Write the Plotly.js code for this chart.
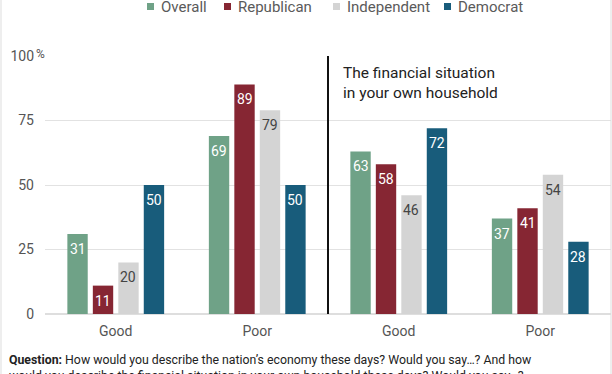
<!DOCTYPE html>
<html>
<head>
<meta charset="utf-8">
<script src="https://cdn.plot.ly/plotly-3.0.1.min.js"></script>
<style>html,body{margin:0;padding:0;background:#fff;}#chart{width:612px;height:374px;}</style>
</head>
<body>
<div id="chart"></div>
<script>
// ---- data ----
const categories = ['Good', 'Poor', 'Good', 'Poor'];
const seriesNames = ['Overall', 'Republican', 'Independent', 'Democrat'];
const overall = [31, 69, 63, 37];
const republican = [11, 89, 58, 41];
const independent = [20, 79, 46, 54];
const democrat = [50, 50, 72, 28];
const yTickValues = [0, 25, 50, 75, 100];
const yTickLabels = ['0', '25', '50', '75', '100'];
const noteText = 'The financial situation<br>in your own household';
const captionText = '<b>Question:</b> How would you describe the nation\u2019s economy these days? Would you say\u2026? And how<br>would you describe the financial situation in your own household these days? Would you say\u2026?';

// ---- styles ----
const colors = ['#6fa287', '#862633', '#d4d4d4', '#185c7b'];
const labelColors = ['#ffffff', '#ffffff', '#444444', '#ffffff'];
const FONT = 'Roboto, "Open Sans", sans-serif';
const W = 612, H = 374;
const M = {l: 45, r: 1, t: 56, b: 60};
const plotW = W - M.l - M.r, plotH = H - M.t - M.b;
const xp = px => (px - M.l) / plotW;
const yp = py => (H - M.b - py) / plotH;
const BARGAP = 0.28, GROUPGAP = 0.2;

const allSeries = [overall, republican, independent, democrat];
const xIdx = categories.map((_, i) => i);

const traces = allSeries.map((vals, i) => ({
  type: 'bar',
  name: seriesNames[i],
  x: xIdx,
  y: vals,
  marker: {color: colors[i]},
  hoverinfo: 'name+y',
  showlegend: false
}));

// value labels placed through the axes
const catW = plotW / categories.length;
const slot = catW * (1 - BARGAP) / allSeries.length;
const annotations = [];
allSeries.forEach((vals, i) => {
  vals.forEach((v, j) => {
    annotations.push({
      x: xIdx[j], y: v, xref: 'x', yref: 'y',
      text: String(v), showarrow: false,
      xanchor: 'center', yanchor: 'middle',
      xshift: (i - (allSeries.length - 1) / 2) * slot,
      yshift: -15,
      font: {family: FONT, size: 14, color: labelColors[i]}
    });
  });
});

// legend (manual)
const legendSquareX = [147, 224, 333, 444];
const shapes = [];
seriesNames.forEach((n, i) => {
  shapes.push({type: 'rect', xref: 'paper', yref: 'paper',
    x0: xp(legendSquareX[i]), x1: xp(legendSquareX[i] + 7),
    y0: yp(10), y1: yp(3), fillcolor: colors[i], line: {width: 0}});
  annotations.push({xref: 'paper', yref: 'paper', x: xp(legendSquareX[i] + 12), y: yp(7),
    xanchor: 'left', yanchor: 'middle', showarrow: false, text: n,
    font: {family: FONT, size: 15, color: '#5a5a5a'}});
});

// percent sign on top tick
annotations.push({xref: 'paper', yref: 'y', x: xp(34), y: yTickValues[yTickValues.length - 1],
  xanchor: 'left', yanchor: 'middle', yshift: 2, showarrow: false, text: '%',
  font: {family: FONT, size: 12, color: '#555'}});

// note
annotations.push({xref: 'paper', yref: 'paper', x: xp(341), y: yp(62),
  xanchor: 'left', yanchor: 'top', align: 'left', showarrow: false, text: noteText,
  font: {family: FONT, size: 15.5, color: '#222'}});

// caption
annotations.push({xref: 'paper', yref: 'paper', x: xp(7), y: yp(351),
  xanchor: 'left', yanchor: 'top', align: 'left', showarrow: false, text: captionText,
  font: {family: FONT, size: 12.3, color: '#222'}});

// divider
shapes.push({type: 'line', xref: 'x', yref: 'y', x0: 1.5, x1: 1.5, y0: 0, y1: 100.5,
  line: {color: '#111', width: 2}});
// frame lines
shapes.push({type: 'line', xref: 'paper', yref: 'paper', x0: xp(1), x1: xp(1), y0: yp(H), y1: yp(0),
  line: {color: '#dddddd', width: 1}});
shapes.push({type: 'line', xref: 'paper', yref: 'paper', x0: xp(611), x1: xp(611), y0: yp(H), y1: yp(0),
  line: {color: '#dddddd', width: 1}});

const layout = {
  width: W, height: H,
  margin: M,
  paper_bgcolor: '#fff', plot_bgcolor: '#fff',
  barmode: 'group', bargap: BARGAP, bargroupgap: GROUPGAP,
  font: {family: FONT, size: 14, color: '#555'},
  xaxis: {
    range: [-0.5, categories.length - 0.5],
    tickvals: xIdx, ticktext: categories,
    showgrid: false, zeroline: false, showline: false, ticks: '',
    ticklabelstandoff: 7,
    tickfont: {family: FONT, size: 14, color: '#555'}
  },
  yaxis: {
    range: [0, 100], tickvals: yTickValues, ticktext: yTickLabels,
    showgrid: true, gridcolor: '#e2e2e2', gridwidth: 1,
    zeroline: true, zerolinecolor: '#dedede', zerolinewidth: 2,
    showline: false, ticks: '', ticklabelstandoff: 10,
    tickfont: {family: FONT, size: 14, color: '#555'}
  },
  shapes: shapes,
  annotations: annotations
};

Plotly.newPlot('chart', traces, layout, {displayModeBar: false, staticPlot: true});
</script>
</body>
</html>
